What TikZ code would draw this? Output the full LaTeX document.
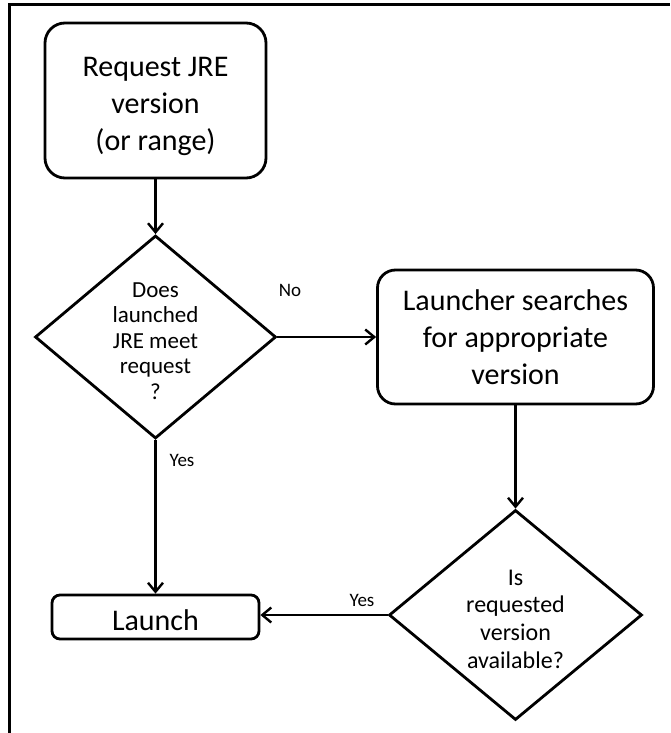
\documentclass[tikz,border=0pt]{standalone}
\usepackage{fontspec}
\setmainfont{Carlito}
\usetikzlibrary{shapes.geometric,arrows.meta}
\begin{document}
\begin{tikzpicture}[x=1pt,y=-1pt,
  box/.style={draw,line width=2.8pt,rounded corners=#1,inner sep=0pt,align=center},
  decision/.style={draw,shape=diamond,line width=2.8pt,inner sep=0pt},
  bigtext/.style={font=\fontsize{30}{37}\selectfont},
  lbl/.style={font=\fontsize{19}{22}\selectfont,inner sep=0pt},
  arr/.style={line width=2.6pt,-{Straight Barb[length=9pt,width=15pt,line width=2.4pt]}}]
\useasboundingbox (0,0) rectangle (670,733);
% frame
\draw[line width=3pt] (9,733) -- (9,5) -- (670,5);
% boxes
\node[box=20pt,minimum width=221pt,minimum height=155pt] (req) at (155.5,100.5) {};
\node[bigtext,align=center,inner sep=0pt] (reqt) at (155.5,106) {Request JRE\\version\\(or range)};
\node[decision,minimum width=241pt,minimum height=203pt] (d1) at (155.5,337) {};
\node[align=center,font=\fontsize{23}{25.5}\selectfont,inner sep=0pt] (d1t) at (155.5,341) {Does\\launched\\JRE meet\\request\\?};
\node[box=18pt,bigtext,minimum width=276pt,minimum height=134pt] (search) at (515.5,337) {Launcher searches\\for appropriate\\version};
\node[decision,minimum width=253pt,minimum height=210pt] (d2) at (515.5,615) {};
\node[align=center,font=\fontsize{24}{27.7}\selectfont,inner sep=0pt] (d2t) at (515.5,619) {Is\\requested\\version\\available?};
\node[box=8pt,minimum width=207pt,minimum height=44pt] (launch) at (155.5,617) {};
\node[bigtext,inner sep=0pt] (launcht) at (155.5,620) {Launch};
% labels
\node[lbl] (no) at (290,290) {No};
\node[lbl] (yes1) at (182,460) {Yes};
\node[lbl] (yes2) at (362,600) {Yes};
% connectors
\draw[arr] (req.south) -- (d1.north);
\draw[arr] (d1.east) -- (search.west);
\draw[arr] (search.south) -- (d2.north);
\draw[arr] (d2.west) -- (d2.west -| launch.east);
\draw[arr] (d1.south) -- (launch.north);
\end{tikzpicture}
\end{document}
